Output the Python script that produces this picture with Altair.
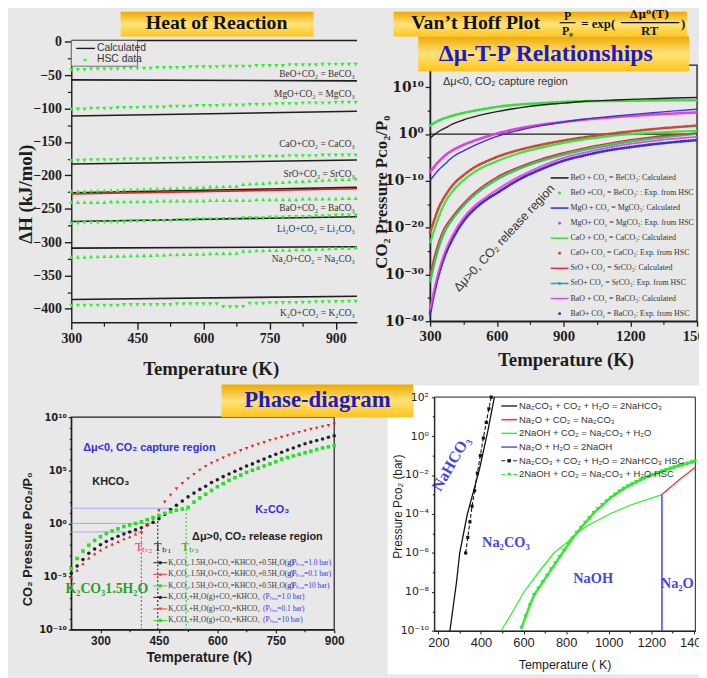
import altair as alt
import pandas as pd

W, H = 699, 670
SERIF = "Liberation Serif"
SANS = "Liberation Sans"
BG = "#e8e8e8"
INK = "#1e1e1e"
LEAF = "#33ee33"
SUP_TABLE = str.maketrans("0123456789-", "⁰¹²³⁴⁵⁶⁷⁸⁹⁻")

# ================= Panel 1 : Heat of Reaction =================
P1_T = list(range(300, 946, 15))
P1_BEO_HSC = [-42, -42, -42, -41, -41, -41, -41, -41, -40, -40, -40, -40, -40, -39, -39, -39, -39, -39, -38, -38, -38, -38,
              -38, -37, -37, -37, -37, -37, -36, -36, -36, -36, -36, -35, -35, -35, -35, -35, -34, -34, -34, -34, -34, -34]
P1_MGO_HSC = [-101, -101, -101, -100, -100, -100, -100, -99, -99, -99, -99, -98, -98, -98, -98, -97, -97, -97, -97, -96, -96, -96,
              -96, -95, -95, -95, -95, -94, -94, -94, -94, -93, -93, -93, -93, -92, -92, -92, -92, -92, -91, -91, -91, -91]
P1_CAO_HSC = [-178, -178, -178, -177, -177, -177, -177, -177, -176, -176, -176, -176, -176, -175, -175, -175, -175, -175, -174, -174,
              -174, -174, -174, -173, -173, -173, -173, -173, -172, -172, -172, -172, -172, -171, -171, -171, -171, -171, -170, -170,
              -170, -170, -170, -170]
P1_SRO_HSC = [-224, -224, -223.5, -223, -223, -222.5, -222, -222, -221.5, -221, -221, -220.5, -220, -220, -219.5, -219, -219, -218.5,
              -218, -218, -217.5, -217, -217, -216.5, -216, -216, -213, -212.5, -212, -211.5, -211, -210.5, -210, -209.5, -209,
              -208.5, -208, -207.5, -207, -206.5, -206, -205.5, -205.5, -205]
P1_BAO_HSC = [-240, -240, -240, -240, -240, -240, -239, -239, -239, -239, -239, -239, -239, -238, -238, -238, -238, -238, -238, -238,
              -238, -237, -237, -237, -237, -237, -237, -237, -236, -236, -236, -236, -236, -236, -236, -235, -235, -235, -235, -235,
              -235, -234, -234, -234]
P1_LI2O_HSC = [-272, -272, -271, -271, -271, -270, -270, -270, -270, -269, -269, -269, -268, -268, -268, -268, -267, -267, -267, -266,
               -266, -266, -266, -265, -265, -265, -264, -264, -264, -264, -263, -263, -263, -262, -262, -262, -262, -261, -261, -261,
               -260, -260, -260, -260]
P1_NA2O_HSC = [-322, -322, -322, -321.5, -321.5, -321, -321, -320.5, -320.5, -320, -320, -319.5, -319.5, -319, -319, -318.5, -318.5,
               -318, -318, -317.5, -317.5, -317, -317, -316.5, -316.5, -316, -313, -313, -312.5, -312.5, -312, -312, -311.5, -311.5,
               -311, -311, -310.5, -310, -310, -309.5, -309, -308.5, -308.5, -308]
P1_K2O_HSC = [-395, -395, -395, -395, -395, -395, -395, -395, -394, -394, -394, -394, -394, -394, -394, -394, -393, -393, -393, -393,
              -393, -393, -393, -397, -397.5, -397.5, -397, -392, -392, -392, -391.5, -391.5, -391, -391, -391, -390.5, -390.5, -390,
              -390, -390, -389.5, -389.5, -389, -389]
P1_HSC_SERIES = [(P1_BEO_HSC, "triangle-down"), (P1_MGO_HSC, "triangle-down"), (P1_CAO_HSC, "triangle-down"),
                 (P1_SRO_HSC, "triangle-up"), (P1_BAO_HSC, "triangle-up"), (P1_LI2O_HSC, "triangle-down"),
                 (P1_NA2O_HSC, "triangle-up"), (P1_K2O_HSC, "triangle-down")]

P1_CALC_NAMES = ["BeO", "MgO", "CaO", "BaO", "SrO", "Li2O", "Na2O", "K2O"]
P1_CALC_T = [300, 948]
P1_CALC_START = [-57, -111, -183, -226, -228, -269, -309, -386]
P1_CALC_END = [-58.5, -104, -177, -218, -220, -262, -307, -381]
P1_CALC_COLOR = [INK, INK, INK, INK, "#dd2222", INK, INK, INK]

P1_LABELS = ["BeO+CO₂ = BeCO₃", "MgO+CO₂ = MgCO₃", "CaO+CO₂ = CaCO₃", "SrO+CO₂ = SrCO₃",
             "BaO+CO₂ = BaCO₃", "Li₂O+CO₂ = Li₂CO₃", "Na₂O+CO₂ = Na₂CO₃", "K₂O+CO₂ = K₂CO₃"]
P1_LABEL_Y = [-48.4, -78, -153.5, -198, -248.3, -280.9, -325.3, -406.7]
P1_LABEL_X = 943

# ================= Panel 2 : Van't Hoff =================
P2_T = [300, 320, 340, 360, 380, 400, 450, 500, 550, 600, 700, 800, 900, 1000, 1100, 1200, 1300, 1400, 1500]
P2_BEO_CALC = [-0.9, -0.1, 0.6, 1.1, 1.6, 2.1, 3.0, 3.7, 4.3, 4.8, 5.6, 6.2, 6.6, 7.0, 7.2, 7.4, 7.55, 7.7, 7.8]
P2_BEO_HSC = [1.8, 2.4, 2.9, 3.3, 3.6, 3.9, 4.5, 5.0, 5.4, 5.8, 6.3, 6.6, 6.85, 7.0, 7.05, 7.1, 7.15, 7.2, 7.2]
P2_MGO_CALC = [-9.9, -8.7, -7.6, -6.7, -5.8, -4.95, -3.6, -2.4, -1.4, -0.5, 0.8, 1.8, 2.55, 3.2, 3.7, 4.15, 4.55, 4.95, 5.3]
P2_MGO_HSC = [-8.1, -6.9, -5.8, -4.9, -4.1, -3.5, -2.3, -1.4, -0.6, 0.1, 1.2, 2.0, 2.6, 3.1, 3.5, 3.85, 4.15, 4.4, 4.6]
P2_CAO_CALC = [-23.3, -20.3, -17.6, -15.3, -13.6, -12.3, -9.9, -8.1, -6.8, -5.8, -4.1, -2.9, -1.9, -1.1, -0.5, -0.05, 0.3, 0.5, 0.7]
P2_CAO_HSC = [-21, -18.2, -15.6, -13.8, -12.3, -11.0, -8.8, -7.1, -5.9, -4.9, -3.4, -2.3, -1.4, -0.65, 0, 0.55, 1.05, 1.45, 1.8]
P2_SRO_CALC = [-29.9, -26.0, -22.8, -20.4, -18.9, -17.6, -14.8, -12.5, -10.7, -9.2, -7.0, -5.3, -4.0, -2.9, -2.0, -1.2, -0.6, -0.15, 0.2]
P2_SRO_HSC = [-31.5, -27.4, -24.0, -21.4, -19.6, -18.2, -15.3, -13.0, -11.2, -9.7, -7.4, -5.7, -4.4, -3.3, -2.4, -1.6, -0.95, -0.4, 0.1]
P2_BAO_CALC = [-37.5, -32.8, -29.0, -26.0, -23.6, -21.7, -17.9, -15.3, -13.5, -11.9, -9.1, -6.9, -5.1, -3.9, -2.9, -2.1, -1.5, -1.0, -0.6]
P2_BAO_HSC = [-38.3, -33.6, -29.8, -26.8, -24.4, -22.5, -18.6, -16.0, -14.1, -12.6, -9.7, -7.5, -5.7, -4.5, -3.5, -2.8, -2.2, -1.7, -1.3]
P2_CALC = [P2_BEO_CALC, P2_MGO_CALC, P2_CAO_CALC, P2_SRO_CALC, P2_BAO_CALC]
P2_CALC_COLORS = ["#202020", "#3535d5", "#3fe23f", "#d83232", "#e84ce8"]
P2_CALC_WIDTHS = [1.4, 1.4, 2.2, 1.4, 1.8]
P2_HSC = [P2_BEO_HSC, P2_MGO_HSC, P2_CAO_HSC, P2_SRO_HSC, P2_BAO_HSC]
P2_HSC_COLORS = ["#40d840", "#e040e0", "#c84a3a", "#30c85a", "#3a2ed0"]
P2_LEG_TEXT = ["BeO + CO₂ = BeCO₃: Calculated", "BeO +CO₂ = BeCO₃: : Exp. from HSC", "MgO + CO₂ = MgCO₃: Calculated",
               "MgO+ CO₂ = MgCO₃: Exp. from HSC", "CaO + CO₂ = CaCO₃: Calculated", "CaO+ CO₂ = CaCO₃: Exp. from HSC",
               "SrO + CO₂ = SrCO₃: Calculated", "SrO+ CO₂ = SrCO₃: Exp. from HSC", "BaO + CO₂ = BaCO₃: Calculated",
               "BaO+ CO₂ = BaCO₃: Exp. from HSC"]
P2_LEG_COLOR = ["#202020", "#40d840", "#3535d5", "#e040e0", "#3fe23f", "#c84a3a", "#d83232", "#30a0a0", "#e84ce8", "#3a2ed0"]
P2_LEG_KIND = ["line", "dot", "line", "dot", "line", "dot", "line", "linedot", "line", "dot"]

# ================= Panel 3 : K2CO3 phase diagram =================
P3_T = list(range(225, 901, 15))
P3_BLACK = [-4.7, -4.0, -3.4, -2.8, -2.4, -2.0, -1.7, -1.45, -1.2, -1.0, -0.8, -0.6, -0.4, -0.15, 0.1, 0.45, 0.85, 1.3, 1.7, 2.1,
            2.5, 2.85, 3.2, 3.5, 3.85, 4.1, 4.4, 4.65, 4.9, 5.15, 5.4, 5.6, 5.85, 6.05, 6.3, 6.5, 6.7, 6.9, 7.1, 7.3, 7.5, 7.65,
            7.8, 7.95, 8.1, 8.25]
P3_RED = [-5.1, -4.4, -3.8, -3.25, -2.85, -2.5, -2.2, -1.95, -1.7, -1.45, -1.25, -1.0, -0.75, -0.2, 0.4, 1.2, 2.0, 2.65, 3.25, 3.75,
          4.2, 4.6, 5.0, 5.35, 5.65, 5.9, 6.15, 6.4, 6.6, 6.85, 7.05, 7.25, 7.45, 7.6, 7.8, 7.95, 8.1, 8.25, 8.4, 8.55, 8.7, 8.85,
          8.95, 9.1, 9.2, 9.35]
P3_GREEN = [-4.25, -3.3, -2.6, -2.05, -1.6, -1.25, -0.95, -0.7, -0.5, -0.3, -0.15, 0.0, 0.15, 0.35, 0.55, 0.75, 0.95, 1.1, 1.25,
            1.35, 1.5, 2.0, 2.4, 2.75, 3.1, 3.45, 3.75, 4.05, 4.3, 4.55, 4.8, 5.0, 5.2, 5.4, 5.6, 5.8, 6.05, 6.2, 6.35, 6.5, 6.65,
            6.8, 6.95, 7.1, 7.2, 7.33]
P3_TR_T = [405, 447, 520]
P3_TR_LOG = [-0.75, 0.4, 1.43]
P3_TR_COLOR = ["#ee4444", "#333333", "#44cc44"]
P3_H_LOG = [1.43, 0.0, -0.8]
P3_H_END = [478, 447, 405]
P3_TEXT = ["Δμ<0, CO₂ capture region", "KHCO₃", "K₂CO₃", "Δμ>0, CO₂ release region"]
P3_TEXT_T = [425.5, 326.5, 740.9, 702.8]
P3_TEXT_LOG = [7.14, 3.91, 1.28, -1.27]
P3_TEXT_COLOR = ["#3030e0", INK, "#3030e0", INK]
P3_TR_TEXT = ["Tₜᵣ₂", "Tₜᵣ₁", "Tₜᵣ₃"]
P3_TR_TEXT_T = [411, 460, 530]
P3_TR_TEXT_COLOR = ["#ee2c8c", "#222222", "#2a9a2a"]
P3_LEG_BLACK = ["K₂CO₃.1.5H₂O+CO₂=KHCO₃+0.5H₂O(g)", "K₂CO₃.1.5H₂O+CO₂=KHCO₃+0.5H₂O(g)", "K₂CO₃.1.5H₂O+CO₂=KHCO₃+0.5H₂O(g)",
                "K₂CO₃+H₂O(g)+CO₂=KHCO₃", "K₂CO₃+H₂O(g)+CO₂=KHCO₃", "K₂CO₃+H₂O(g)+CO₂=KHCO₃"]
P3_LEG_BLUE = ["(Pₕ₂ₒ=1.0 bar)", "(Pₕ₂ₒ=0.1 bar)", "(Pₕ₂ₒ=10 bar)", "(Pₕ₂ₒ=1.0 bar)", "(Pₕ₂ₒ=0.1 bar)", "(Pₕ₂ₒ=10 bar)"]
P3_LEG_COLOR = ["#222222", "#ee3333", "#33dd33", "#222222", "#ee3333", "#33dd33"]
P3_LEG_SHAPE = ["circle", "triangle-up", "square", "circle", "triangle-down", "square"]

# ================= Panel 4 : Na phase diagram =================
P4_BLACK_T = [254, 285, 300, 336, 393, 432, 463]
P4_BLACK_LOG = [-10, -7.5, -6, -4, -1.7, 0.25, 2]
P4_BHSC_T = [328, 338, 348, 358, 370, 383, 397, 411, 425, 437, 448]
P4_BHSC_LOG = [-6, -5.2, -4.4, -3.6, -2.8, -1.9, -1.0, -0.1, 0.7, 1.4, 2]
P4_GREEN_T = [494, 550, 602, 670, 742, 800, 842, 900, 1005, 1100, 1250]
P4_GREEN_LOG = [-10, -9, -8, -7, -6, -5.5, -5.05, -4.6, -4.0, -3.55, -3.0]
P4_RED_T = [1250, 1330, 1407]
P4_RED_LOG = [-3.0, -2.26, -1.6]
P4_BLUE_T = 1250
P4_BLUE_TOP = -3.0
P4_GHSC_T = [590, 610, 630, 650, 670, 690, 710, 730, 750, 770, 790, 810, 830, 850, 870, 890, 910, 930, 950, 970, 990, 1010,
             1030, 1050, 1070, 1090, 1110, 1130, 1150, 1170, 1190, 1210, 1230, 1250, 1270, 1290, 1310, 1330, 1350, 1370, 1390, 1405]
P4_GHSC_LOG = [-9.85, -9.25, -8.68, -8.15, -7.82, -7.5, -7.17, -6.84, -6.52, -6.2, -5.88, -5.56, -5.25, -4.96, -4.7, -4.45, -4.2,
               -3.95, -3.74, -3.54, -3.35, -3.16, -3.0, -2.85, -2.71, -2.58, -2.47, -2.36, -2.26, -2.16, -2.07, -1.98, -1.89,
               -1.81, -1.74, -1.67, -1.6, -1.54, -1.47, -1.41, -1.35, -1.3]
P4_TEXT = ["Na₂CO₃", "NaOH", "Na₂O"]
P4_TEXT_T = [517, 927, 1322]
P4_TEXT_LOG = [-5.49, -7.35, -7.6]
P4_LEG_TEXT = ["Na₂CO₃ + CO₂ + H₂O = 2NaHCO₃", "Na₂O + CO₂ = Na₂CO₃", "2NaOH + CO₂ = Na₂CO₃ + H₂O", "Na₂O + H₂O = 2NaOH",
               "Na₂CO₃ + CO₂ + H₂O = 2NaHCO₃ HSC", "2NaOH + CO₂ = Na₂CO₃ + H₂O HSC"]
P4_LEG_COLOR = ["#333333", "#ff3030", "#33ee33", "#5050ff", "#222222", "#33ee33"]


# ================= helpers =================
def sup(n):
    return str(n).translate(SUP_TABLE)


def pow10_expr(exps):
    s = "''"
    for e in exps:
        s = f"abs(log(datum.value)/LN10 - ({e})) < 0.01 ? '10{sup(e)}' : " + s
    return s


def enc(sx, sy, ax, ay):
    return dict(x=alt.X("T:Q", scale=sx, axis=ax), y=alt.Y("v:Q", scale=sy, axis=ay))


def minor(sx, sy, ax_x, ax_y, xd, yd):
    d = pd.DataFrame({"T": [xd], "v": [yd]})
    return alt.Chart(d).mark_point(opacity=0).encode(x=alt.X("T:Q", scale=sx, axis=ax_x),
                                                      y=alt.Y("v:Q", scale=sy, axis=ax_y))


def tick_axis(orient, offset, values, size, z=0):
    return alt.Axis(orient=orient, offset=offset, values=values, labels=False, domain=False, tickSize=size,
                    tickColor=INK, tickWidth=1.2, title=None, grid=False, zindex=z)


ONE = pd.DataFrame({"k": [0]})
GRAD = alt.Gradient(gradient="linear",
                    stops=[alt.GradientStop(color="#eeaa00", offset=0), alt.GradientStop(color="#ffe37a", offset=0.5),
                           alt.GradientStop(color="#ffc41a", offset=1)],
                    x1=0, x2=0, y1=0, y2=1)


def box(x, x2, y, y2):
    return alt.Chart(ONE).mark_rect(color=GRAD).encode(x=alt.value(x), x2=alt.value(x2), y=alt.value(y), y2=alt.value(y2))


def deco_text(txt, x, y, **kw):
    return alt.Chart(ONE).mark_text(text=txt, baseline="middle", **kw).encode(x=alt.value(x), y=alt.value(y))


def deco_rule(x, x2, y, **kw):
    return alt.Chart(ONE).mark_rule(**kw).encode(x=alt.value(x), x2=alt.value(x2), y=alt.value(y))


layers = []

# background of the bottom-right figure (white)
layers.append(alt.Chart(ONE).mark_rect(color="white").encode(x=alt.value(384), x2=alt.value(W), y=alt.value(378),
                                                             y2=alt.value(H)))

# ================= Panel 1 build =================
P1X = alt.Scale(domain=[300, 948], range=[64, 353], nice=False, zero=False)
P1Y = alt.Scale(domain=[-420, 2], range=[314, 29], nice=False, zero=False)
AX1X = alt.Axis(orient="bottom", offset=314 - H, values=[300, 450, 600, 750, 900], title="Temperature (K)",
                titleX=205, titleY=47, titleBaseline="middle", titleFont=SERIF, titleFontSize=19, titleFontWeight="bold",
                titleColor=INK, labelFont=SERIF, labelFontSize=14, labelFontWeight="bold", labelColor=INK,
                labelPadding=3, labelFlush=False, labelOverlap=False, tickSize=7, tickWidth=1.4, tickColor=INK,
                domainColor=INK, domainWidth=1.4, grid=False, format="d")
AX1Y = alt.Axis(orient="left", offset=-64, values=list(range(-400, 1, 50)), title="ΔH (kJ/mol)",
                titleX=18 - 64, titleY=184, titleBaseline="middle", titleAlign="center", titleFont=SERIF,
                titleFontSize=19, titleFontWeight="bold", titleColor=INK, labelFont=SERIF, labelFontSize=14,
                labelFontWeight="bold", labelColor=INK, labelPadding=3, labelFlush=False, labelOverlap=False,
                tickSize=7, tickWidth=1.4, tickColor=INK, domainColor=INK, domainWidth=1.4, grid=False)

p1_calc = pd.DataFrame([{"s": n, "T": t, "v": v, "c": c}
                        for n, a, b, c in zip(P1_CALC_NAMES, P1_CALC_START, P1_CALC_END, P1_CALC_COLOR)
                        for t, v in zip(P1_CALC_T, [a, b])])
p1_hsc = pd.concat([pd.DataFrame({"T": [t for t, _ in zip(P1_T, vals)], "v": [v for _, v in zip(P1_T, vals)], "shape": shp})
                    for vals, shp in P1_HSC_SERIES], ignore_index=True)
p1_lab = pd.DataFrame({"T": [P1_LABEL_X] * len(P1_LABELS), "v": P1_LABEL_Y, "label": P1_LABELS})
p1_top = pd.DataFrame({"T": [300], "T2": [948], "v": [2]})

panel1 = alt.layer(
    alt.Chart(p1_calc).mark_line(strokeWidth=1.6).encode(
        **enc(P1X, P1Y, AX1X, AX1Y), detail="s:N", color=alt.Color("c:N", scale=None)),
    alt.Chart(p1_hsc).mark_point(filled=True, size=19, color=LEAF, opacity=1).encode(
        **enc(P1X, P1Y, AX1X, AX1Y), shape=alt.Shape("shape:N", scale=None)),
    alt.Chart(p1_lab).mark_text(font=SERIF, fontSize=9.5, color="#333333", align="right", baseline="middle").encode(
        **enc(P1X, P1Y, AX1X, AX1Y), text="label:N"),
    alt.Chart(p1_top).mark_rule(color=INK, strokeWidth=1.4).encode(
        **enc(P1X, P1Y, AX1X, AX1Y), x2="T2:Q"),
)
layers.append(panel1)
layers.append(minor(P1X, P1Y, tick_axis("bottom", 314 - H, [375, 525, 675, 825], 4),
                    tick_axis("left", -64, list(range(-375, 0, 50)), 4), 300, -420))

# panel 1 legend
layers += [
    alt.Chart(ONE).mark_rect(fill=BG, stroke="#555555", strokeWidth=0.8).encode(
        x=alt.value(64), x2=alt.value(131), y=alt.value(29), y2=alt.value(55)),
    deco_rule(69, 88, 37, color=INK, strokeWidth=1.4),
    deco_text("Calculated", 90, 37, font=SANS, fontSize=10.5, color="#333333", align="left"),
    alt.Chart(ONE).mark_point(shape="triangle-up", filled=True, size=14, color=LEAF, opacity=1).encode(
        x=alt.value(78), y=alt.value(48)),
    deco_text("HSC data", 90, 48, font=SANS, fontSize=10.5, color="#333333", align="left"),
]

# ================= Panel 2 build =================
P2X = alt.Scale(domain=[300, 1500], range=[427, 697], nice=False, zero=False)
P2Y = alt.Scale(type="log", domain=[1e-40, 10 ** 14.7], range=[313, 54], nice=False)
AX2X = alt.Axis(orient="bottom", offset=313 - H, values=[300, 600, 900, 1200, 1500], title="Temperature (K)",
                titleX=564, titleY=39, titleBaseline="middle", titleFont=SERIF, titleFontSize=19, titleFontWeight="bold",
                titleColor=INK, labelFont=SERIF, labelFontSize=15, labelFontWeight="bold", labelColor=INK,
                labelPadding=2, labelFlush=False, labelOverlap=False, tickSize=5, tickWidth=1.3, tickColor=INK,
                domainColor=INK, domainWidth=1.3, grid=False, format="d")
AX2Y = alt.Axis(orient="left", offset=-427, values=[1e-40, 1e-30, 1e-20, 1e-10, 1, 1e10],
                labelExpr=pow10_expr([-40, -30, -20, -10, 0, 10]), title="CO₂ Pressure Pᴄᴏ₂/P₀",
                titleX=378 - 427, titleY=182, titleBaseline="middle", titleAlign="center", titleFont=SERIF,
                titleFontSize=17, titleFontWeight="bold", titleColor=INK, labelFont="DejaVu Serif", labelFontSize=14,
                labelFontWeight="bold", labelColor=INK, labelPadding=2, labelFlush=False, labelOverlap=False,
                tickSize=5, tickWidth=1.3, tickColor=INK, domainColor=INK, domainWidth=1.3, grid=False)

p2_calc = pd.DataFrame([{"s": i, "T": t, "v": 10 ** v, "c": c, "w": w}
                        for i, (vals, c, w) in enumerate(zip(P2_CALC, P2_CALC_COLORS, P2_CALC_WIDTHS))
                        for t, v in zip(P2_T, vals)])
p2_hsc = pd.DataFrame([{"s": i, "T": t, "v": 10 ** v, "c": c}
                       for i, (vals, c) in enumerate(zip(P2_HSC, P2_HSC_COLORS))
                       for t, v in zip(P2_T, vals)])
p2_frame = pd.DataFrame({"T": [300], "T2": [1500], "v": [1e-40], "v2": [10 ** 14.7]})
p2_unit = pd.DataFrame({"T": [300], "T2": [1500], "v": [1.0]})
p2_t1 = pd.DataFrame({"T": [358], "v": [10 ** 11.1], "label": ["Δμ<0, CO₂ capture region"]})
p2_t2 = pd.DataFrame({"T": [633], "v": [10 ** -22.2], "label": ["Δμ>0, CO₂ release region"]})

panel2 = alt.layer(
    alt.Chart(p2_frame).mark_rect(filled=False, stroke=INK, strokeWidth=1.3).encode(
        **enc(P2X, P2Y, AX2X, AX2Y), x2="T2:Q", y2="v2:Q"),
    alt.Chart(p2_unit).mark_rule(color=INK, strokeWidth=1.3).encode(**enc(P2X, P2Y, AX2X, AX2Y), x2="T2:Q"),
    alt.Chart(p2_hsc).mark_line(interpolate="monotone", strokeDash=[0.1, 2.4], strokeCap="round",
                                strokeWidth=2.9).encode(
        **enc(P2X, P2Y, AX2X, AX2Y), detail="s:N", color=alt.Color("c:N", scale=None)),
    alt.Chart(p2_calc).mark_line(interpolate="monotone").encode(
        **enc(P2X, P2Y, AX2X, AX2Y), detail="s:N", color=alt.Color("c:N", scale=None),
        strokeWidth=alt.StrokeWidth("w:Q", scale=None)),
    alt.Chart(p2_t1).mark_text(font=SANS, fontSize=11, color="#333333", align="left", baseline="middle").encode(
        **enc(P2X, P2Y, AX2X, AX2Y), text="label:N"),
    alt.Chart(p2_t2).mark_text(font=SANS, fontSize=12.5, color="#333333", angle=313, baseline="middle").encode(
        **enc(P2X, P2Y, AX2X, AX2Y), text="label:N"),
)
layers.append(panel2)
layers.append(minor(P2X, P2Y, tick_axis("bottom", 313 - H, [450, 750, 1050, 1350], 3),
                    tick_axis("left", -427, [1e-35, 1e-25, 1e-15, 1e-5, 1e5], 3), 300, 1e-40))

# panel 2 legend
p2_leg = pd.DataFrame({"i": list(range(len(P2_LEG_TEXT))), "label": P2_LEG_TEXT, "c": P2_LEG_COLOR, "kind": P2_LEG_KIND})
P2LY = alt.Y("i:Q", scale=alt.Scale(domain=[0, 9], range=[168, 305.3]), axis=None)
layers.append(alt.layer(
    alt.Chart(p2_leg[p2_leg.kind != "dot"]).mark_rule(strokeWidth=1.6).encode(
        x=alt.value(549), x2=alt.value(567), y=P2LY, color=alt.Color("c:N", scale=None)),
    alt.Chart(p2_leg[p2_leg.kind != "line"]).mark_point(filled=True, size=9, shape="circle", opacity=1).encode(
        x=alt.value(558), y=P2LY, color=alt.Color("c:N", scale=None)),
    alt.Chart(p2_leg).mark_text(font=SERIF, fontSize=8, color="#333333", align="left", baseline="middle").encode(
        x=alt.value(569), y=P2LY, text="label:N"),
))

# ================= Panel 3 build =================
P3X = alt.Scale(domain=[225, 900], range=[64, 330], nice=False, zero=False)
P3Y = alt.Scale(type="log", domain=[1e-10, 1e10], range=[625, 410], nice=False)
AX3X = alt.Axis(orient="bottom", offset=625 - H, values=[300, 450, 600, 750, 900], title="Temperature (K)",
                titleX=193, titleY=28, titleBaseline="middle", titleFont=SANS, titleFontSize=14, titleFontWeight="bold",
                titleColor=INK, labelFont=SANS, labelFontSize=12, labelFontWeight="bold", labelColor=INK,
                labelPadding=3, labelFlush=False, labelOverlap=False, tickSize=3, tickWidth=1.2, tickColor=INK,
                domainColor=INK, domainWidth=1.2, grid=False, format="d")
AX3Y = alt.Axis(orient="left", offset=-64, values=[1e-10, 1e-5, 1, 1e5, 1e10],
                labelExpr=pow10_expr([-10, -5, 0, 5, 10]), title="CO₂ Pressure Pᴄᴏ₂/P₀",
                titleX=20 - 64, titleY=533, titleBaseline="middle", titleAlign="center", titleFont=SANS,
                titleFontSize=13, titleFontWeight="bold", titleColor=INK, labelFont="DejaVu Sans", labelFontSize=10,
                labelFontWeight="bold", labelColor=INK, labelPadding=2, labelFlush=False, labelOverlap=False,
                tickSize=3, tickWidth=1.2, tickColor=INK, domainColor=INK, domainWidth=1.2, grid=False)

p3_pts = pd.DataFrame(
    [{"T": t, "v": 10 ** v, "c": "#222222", "shape": "circle"} for t, v in zip(P3_T, P3_BLACK)] +
    [{"T": t, "v": 10 ** v, "c": "#ee2222", "shape": "triangle-up" if t <= 405 else "triangle-down"}
     for t, v in zip(P3_T, P3_RED)] +
    [{"T": t, "v": 10 ** v, "c": "#22e022", "shape": "square"} for t, v in zip(P3_T, P3_GREEN)])
p3_vert = pd.DataFrame({"T": P3_TR_T, "v": [1e-10] * 3, "v2": [10 ** v for v in P3_TR_LOG], "c": P3_TR_COLOR})
p3_hor = pd.DataFrame({"T": [225] * 3, "T2": P3_H_END, "v": [10 ** v for v in P3_H_LOG]})
p3_txt = pd.DataFrame({"T": P3_TEXT_T, "v": [10 ** v for v in P3_TEXT_LOG], "label": P3_TEXT, "c": P3_TEXT_COLOR})
p3_tr_txt = pd.DataFrame({"T": P3_TR_TEXT_T, "v": [10 ** -2.2] * 3, "label": P3_TR_TEXT, "c": P3_TR_TEXT_COLOR})
p3_k = pd.DataFrame({"T": [316.3], "v": [10 ** -6.17], "label": ["K₂CO₃1.5H₂O"]})
p3_frame = pd.DataFrame({"T": [225], "T2": [900], "v": [1e-10], "v2": [1e10]})

panel3 = alt.layer(
    alt.Chart(p3_frame).mark_rect(filled=False, stroke=INK, strokeWidth=1.2).encode(
        **enc(P3X, P3Y, AX3X, AX3Y), x2="T2:Q", y2="v2:Q"),
    alt.Chart(p3_hor).mark_rule(color="#a3aaf0", strokeWidth=1).encode(**enc(P3X, P3Y, AX3X, AX3Y), x2="T2:Q"),
    alt.Chart(p3_vert).mark_rule(strokeWidth=1.2, strokeDash=[2, 2]).encode(
        **enc(P3X, P3Y, AX3X, AX3Y), y2="v2:Q", color=alt.Color("c:N", scale=None)),
    alt.Chart(p3_pts).mark_point(filled=True, size=13, opacity=1).encode(
        **enc(P3X, P3Y, AX3X, AX3Y), color=alt.Color("c:N", scale=None), shape=alt.Shape("shape:N", scale=None)),
    alt.Chart(p3_txt).mark_text(font=SANS, fontSize=11, fontWeight="bold", baseline="middle").encode(
        **enc(P3X, P3Y, AX3X, AX3Y), text="label:N", color=alt.Color("c:N", scale=None)),
    alt.Chart(p3_tr_txt).mark_text(font=SERIF, fontSize=12.5, baseline="middle").encode(
        **enc(P3X, P3Y, AX3X, AX3Y), text="label:N", color=alt.Color("c:N", scale=None)),
    alt.Chart(p3_k).mark_text(font=SERIF, fontSize=14, fontWeight="bold", color="#2aa02a", baseline="middle").encode(
        **enc(P3X, P3Y, AX3X, AX3Y), text="label:N"),
)
layers.append(panel3)
layers.append(minor(P3X, P3Y, tick_axis("bottom", 625 - H, [375, 525, 675, 825], 2),
                    tick_axis("left", -64, [10.0 ** e for e in range(-9, 10) if e % 5 != 0], 2), 225, 1e-10))

# panel 3 legend
p3_leg = pd.DataFrame({"i": list(range(6)), "black": P3_LEG_BLACK, "blue": P3_LEG_BLUE, "c": P3_LEG_COLOR,
                       "shape": P3_LEG_SHAPE, "bx": [285, 285, 285, 258, 258, 258]})
P3LY = alt.Y("i:Q", scale=alt.Scale(domain=[0, 5], range=[557.3, 615.7]), axis=None)
layers.append(alt.layer(
    alt.Chart(p3_leg).mark_rule(strokeWidth=1).encode(
        x=alt.value(147), x2=alt.value(161), y=P3LY, color=alt.Color("c:N", scale=None)),
    alt.Chart(p3_leg).mark_point(filled=True, size=11, opacity=1).encode(
        x=alt.value(154), y=P3LY, color=alt.Color("c:N", scale=None), shape=alt.Shape("shape:N", scale=None)),
    alt.Chart(p3_leg).mark_text(font=SERIF, fontSize=7.5, color="#333333", align="left", baseline="middle").encode(
        x=alt.value(162), y=P3LY, text="black:N"),
    alt.Chart(p3_leg).mark_text(font=SERIF, fontSize=7.5, color="#3a3ae0", align="left", baseline="middle").encode(
        x=alt.X("bx:Q", scale=None, axis=None), y=P3LY, text="blue:N"),
))

# ================= Panel 4 build =================
P4X = alt.Scale(domain=[181, 1407], range=[431.3, 695.3], nice=False, zero=False)
P4Y = alt.Scale(type="log", domain=[1e-10, 100], range=[626.3, 389.7], nice=False)
AX4X = alt.Axis(orient="bottom", offset=626.3 - H, values=[200, 400, 600, 800, 1000, 1200, 1400],
                title="Temperature ( K)", titleX=563, titleY=34, titleBaseline="middle", titleFont=SANS,
                titleFontSize=12.5, titleFontWeight="normal", titleColor=INK, labelFont=SANS, labelFontSize=13,
                labelColor=INK, labelPadding=3, labelFlush=False, labelOverlap=False, tickSize=3, tickWidth=1,
                tickColor=INK, domainColor=INK, domainWidth=1, grid=False, zindex=1, format="d")
AX4Y = alt.Axis(orient="left", offset=-431.3, values=[1e-10, 1e-8, 1e-6, 1e-4, 1e-2, 1, 100],
                labelExpr=pow10_expr([-10, -8, -6, -4, -2, 0, 2]), title="Pressure Pᴄᴏ₂ (bar)",
                titleX=394 - 431.3, titleY=500, titleBaseline="middle", titleAlign="center", titleFont=SANS,
                titleFontSize=12, titleFontWeight="normal", titleColor=INK, labelFont="DejaVu Sans", labelFontSize=11,
                labelColor=INK, labelPadding=3, labelFlush=False, labelOverlap=False, tickSize=3, tickWidth=1,
                tickColor=INK, domainColor=INK, domainWidth=1, grid=False, zindex=1)


def series(ts, logs):
    return pd.DataFrame({"T": ts, "v": [10 ** v for v in logs]})


p4_frame = pd.DataFrame({"T": [181], "T2": [1407], "v": [1e-10], "v2": [100]})
p4_blue = pd.DataFrame({"T": [P4_BLUE_T], "v": [1e-10], "v2": [10 ** P4_BLUE_TOP]})
p4_txt = pd.DataFrame({"T": P4_TEXT_T, "v": [10 ** v for v in P4_TEXT_LOG], "label": P4_TEXT})
p4_nahco3 = pd.DataFrame({"T": [259], "v": [10 ** -1.42], "label": ["NaHCO₃"]})
E4 = lambda: enc(P4X, P4Y, AX4X, AX4Y)

panel4 = alt.layer(
    alt.Chart(p4_frame).mark_rect(filled=False, stroke=INK, strokeWidth=1).encode(**E4(), x2="T2:Q", y2="v2:Q"),
    alt.Chart(series(P4_BLACK_T, P4_BLACK_LOG)).mark_line(color="#111111", strokeWidth=1.3).encode(**E4()),
    alt.Chart(series(P4_BHSC_T, P4_BHSC_LOG)).mark_line(color="#111111", strokeWidth=1.1,
                                                        strokeDash=[4, 2]).encode(**E4()),
    alt.Chart(series(P4_BHSC_T, P4_BHSC_LOG)).mark_point(shape="square", filled=True, size=10, color="#111111",
                                                         opacity=1).encode(**E4()),
    alt.Chart(series(P4_GREEN_T, P4_GREEN_LOG)).mark_line(color="#33ee33", strokeWidth=1.3).encode(**E4()),
    alt.Chart(series(P4_GHSC_T, P4_GHSC_LOG)).mark_line(color="#33ee33", strokeWidth=2.5,
                                                        interpolate="monotone").encode(**E4()),
    alt.Chart(series(P4_GHSC_T, P4_GHSC_LOG)).mark_point(shape="triangle-down", filled=True, size=22,
                                                         color="#2ee62e", opacity=1).encode(**E4()),
    alt.Chart(series(P4_RED_T, P4_RED_LOG)).mark_line(color="#ff3030", strokeWidth=1.3).encode(**E4()),
    alt.Chart(p4_blue).mark_rule(color="#5050ff", strokeWidth=1.6).encode(**E4(), y2="v2:Q"),
    alt.Chart(p4_txt).mark_text(font=SERIF, fontSize=14.5, fontWeight="bold", color="#4646e0",
                                baseline="middle").encode(**E4(), text="label:N"),
    alt.Chart(p4_nahco3).mark_text(font=SERIF, fontSize=16, fontWeight="bold", color="#4646e0", angle=300,
                                   baseline="middle").encode(**E4(), text="label:N"),
)
layers.append(panel4)
layers.append(minor(P4X, P4Y, tick_axis("bottom", 626.3 - H, [300, 500, 700, 900, 1100, 1300], 2, 1),
                    tick_axis("left", -431.3, [1e-9, 1e-7, 1e-5, 1e-3, 1e-1, 10], 2, 1), 181, 1e-10))

# panel 4 legend
p4_leg = pd.DataFrame({"i": list(range(6)), "label": P4_LEG_TEXT, "c": P4_LEG_COLOR})
P4LY = alt.Y("i:Q", scale=alt.Scale(domain=[0, 5], range=[398.7, 468]), axis=None)
layers.append(alt.layer(
    alt.Chart(p4_leg[p4_leg.i < 4]).mark_rule(strokeWidth=1.5).encode(
        x=alt.value(499), x2=alt.value(515), y=P4LY, color=alt.Color("c:N", scale=None)),
    alt.Chart(p4_leg[p4_leg.i >= 4]).mark_rule(strokeWidth=1.2, strokeDash=[4, 2]).encode(
        x=alt.value(499), x2=alt.value(515), y=P4LY, color=alt.Color("c:N", scale=None)),
    alt.Chart(p4_leg[p4_leg.i == 4]).mark_point(shape="square", filled=True, size=12, opacity=1).encode(
        x=alt.value(507), y=P4LY, color=alt.Color("c:N", scale=None)),
    alt.Chart(p4_leg[p4_leg.i == 5]).mark_point(shape="triangle-down", filled=True, size=16, opacity=1).encode(
        x=alt.value(507), y=P4LY, color=alt.Color("c:N", scale=None)),
    alt.Chart(p4_leg).mark_text(font=SANS, fontSize=9.5, color="#333333", align="left", baseline="middle").encode(
        x=alt.value(517), y=P4LY, text="label:N"),
))

# ================= Title boxes =================
layers += [
    box(114, 309, 0, 25),
    deco_text("Heat of Reaction", 211, 11, font=SERIF, fontSize=20, fontWeight="bold", color="#111111"),
    box(390, 687, 0, 25),
    deco_text("Van’t Hoff Plot", 473, 11, font=SERIF, fontSize=20, fontWeight="bold", color="#111111"),
    deco_text("P", 566, 4, font=SERIF, fontSize=12, fontWeight="bold", color="#111111"),
    deco_rule(558, 574, 11, color="#111111", strokeWidth=1.2),
    deco_text("P₀", 566, 19, font=SERIF, fontSize=12, fontWeight="bold", color="#111111"),
    deco_text("= exp(", 597, 12, font=SERIF, fontSize=13, fontWeight="bold", color="#111111"),
    deco_text("Δμ⁰(T)", 649, 3, font="DejaVu Serif", fontSize=11, fontWeight="bold", color="#111111"),
    deco_rule(620, 679, 11, color="#111111", strokeWidth=1.2),
    deco_text("RT", 649, 19, font=SERIF, fontSize=13, fontWeight="bold", color="#111111"),
    deco_text(")", 683, 12, font=SERIF, fontSize=13, fontWeight="bold", color="#111111"),
    box(415, 689, 25, 60),
    deco_text("Δμ-T-P Relationships", 544, 43, font=SERIF, fontSize=24, fontWeight="bold", color="#1a1ac8"),
    box(216, 410, 377, 410),
    deco_text("Phase-diagram", 313, 393, font=SERIF, fontSize=23, fontWeight="bold", color="#1a1ac8"),
]

chart = alt.layer(*layers).properties(
    width=W, height=H, autosize=alt.AutoSizeParams(type="none"), padding=0
).resolve_scale(x="independent", y="independent").configure(background=BG).configure_view(stroke=None)

chart.save("out.html", embed_options={"renderer": "svg", "actions": False})
